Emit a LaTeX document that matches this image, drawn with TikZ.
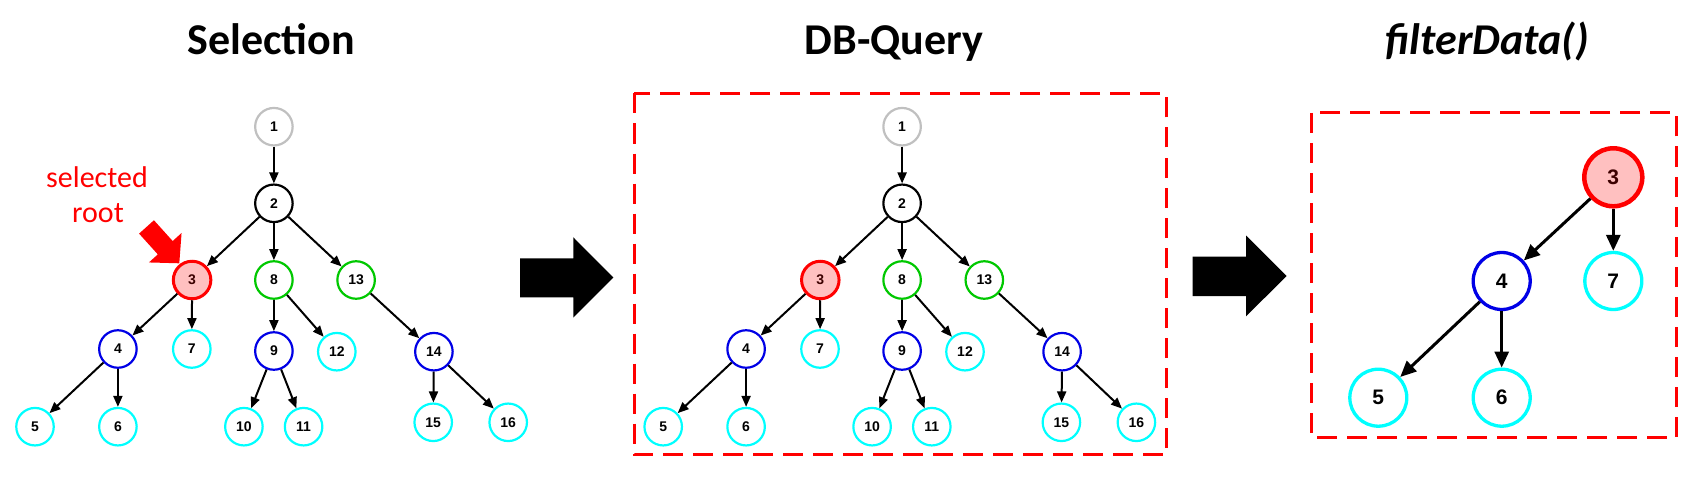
\documentclass[tikz,border=0pt]{standalone}
\usepackage{fontspec}
\setmainfont{Carlito}
\newfontfamily\nodefont{Liberation Sans}
\usetikzlibrary{arrows.meta}
\definecolor{ngray}{RGB}{192,192,192}
\definecolor{ngreen}{RGB}{0,200,0}
\definecolor{nblue}{RGB}{0,0,230}
\definecolor{ncyan}{RGB}{0,255,255}
\definecolor{npink}{RGB}{255,192,192}
\definecolor{nred}{RGB}{255,0,0}
\definecolor{ndark}{RGB}{60,0,0}
\tikzset{
  tn/.style={circle, draw, line width=2.2pt, minimum size=37.5pt, inner sep=0pt, fill=white,
    font=\nodefont\bfseries\fontsize{14}{14}\selectfont},
  bn/.style={circle, draw, line width=3.3pt, minimum size=57pt, inner sep=0pt, fill=white,
    font=\nodefont\bfseries\fontsize{21}{21}\selectfont},
  selnode/.style={draw=nred, fill=npink, text=ndark},
  edgeA/.style={line width=2pt, -{Triangle[length=11pt,width=9pt]}},
  edgeB/.style={line width=3pt, -{Triangle[length=16pt,width=14pt]}},
  ttl/.style={anchor=base, font=\bfseries\fontsize{44}{50}\selectfont},
  dbox/.style={draw=nred, line width=3pt, dash pattern=on 20pt off 10pt},
  bigarrow/.style={fill=black},
}
\newcommand{\fulltree}{%
  \node[tn, draw=ngray] (n1) at (273.9,126.7) {1};
  \node[tn, draw=black] (n2) at (273.9,203.3) {2};
  \node[tn, selnode, line width=3pt] (n3) at (192.1,280) {3};
  \node[tn, draw=ngreen] (n8) at (273.9,280) {8};
  \node[tn, draw=ngreen] (n13) at (356.1,280) {13};
  \node[tn, draw=nblue] (n4) at (117.9,349) {4};
  \node[tn, draw=ncyan] (n7) at (191.8,349) {7};
  \node[tn, draw=nblue] (n9) at (273.9,351) {9};
  \node[tn, draw=ncyan] (n12) at (336.8,351.7) {12};
  \node[tn, draw=nblue] (n14) at (433.9,351.7) {14};
  \node[tn, draw=ncyan] (n5) at (35,426.7) {5};
  \node[tn, draw=ncyan] (n6) at (117.9,426.7) {6};
  \node[tn, draw=ncyan] (n10) at (243.9,426.7) {10};
  \node[tn, draw=ncyan] (n11) at (303.6,426.7) {11};
  \node[tn, draw=ncyan] (n15) at (433.2,422.3) {15};
  \node[tn, draw=ncyan] (n16) at (508.2,422.3) {16};
  \draw[edgeA] (n1) -- (n2);
  \draw[edgeA] (n2) -- (n3);
  \draw[edgeA] (n2) -- (n8);
  \draw[edgeA] (n2) -- (n13);
  \draw[edgeA] (n3) -- (n4);
  \draw[edgeA] (n3) -- (n7);
  \draw[edgeA] (n8) -- (n9);
  \draw[edgeA] (n8) -- (n12);
  \draw[edgeA] (n13) -- (n14);
  \draw[edgeA] (n4) -- (n5);
  \draw[edgeA] (n4) -- (n6);
  \draw[edgeA] (n9) -- (n10);
  \draw[edgeA] (n9) -- (n11);
  \draw[edgeA] (n14) -- (n15);
  \draw[edgeA] (n14) -- (n16);
}
\begin{document}
\begin{tikzpicture}[x=1pt, y=-1pt]
  \useasboundingbox (0,0) rectangle (1707,500);
  % titles
  \node[ttl] (t1) at (271,55) {Selection};
  \node[ttl] (t2) at (894,55) {DB-Query};
  \node[ttl, font=\bfseries\itshape\fontsize{44}{50}\selectfont] (t3) at (1487,55) {filterData()};
  % left tree
  \begin{scope}[name prefix=a-]
    \fulltree
  \end{scope}
  % selected root label and pointer
  \node[anchor=base, text=nred, font=\fontsize{30}{35}\selectfont] (sel1) at (97,187) {selected};
  \node[anchor=base, text=nred, font=\fontsize{30}{35}\selectfont] (sel2) at (98,222) {root};
  \fill[nred] (179.3,263.3) -- (181.57,233.0) -- (172.67,241.03) -- (153.94,220.25)
    -- (139.1,233.63) -- (157.83,254.41) -- (148.93,262.44) -- cycle;
  % first big arrow
  \fill[bigarrow] (520,258.3) -- (573.3,258.3) -- (573.3,237.3) -- (613.3,277.5)
    -- (573.3,317.5) -- (573.3,297.3) -- (520,297.3) -- cycle;
  % middle tree
  \draw[dbox] (634,93.5) rectangle (1166,454.5);
  \begin{scope}[name prefix=b-, xshift=628.2pt]
    \fulltree
  \end{scope}
  % second big arrow
  \fill[bigarrow] (1192.7,256.5) -- (1246,256.5) -- (1246,235.5) -- (1286.7,276)
    -- (1246,316.3) -- (1246,296) -- (1192.7,296) -- cycle;
  % right tree
  \draw[dbox] (1311,113) rectangle (1676.5,437);
  \node[bn, selnode, line width=4.5pt, minimum size=58pt] (c3) at (1613.3,177.3) {3};
  \node[bn, draw=nblue] (c4) at (1501.7,281) {4};
  \node[bn, draw=ncyan] (c7) at (1613.3,281) {7};
  \node[bn, draw=ncyan] (c5) at (1378.3,397.7) {5};
  \node[bn, draw=ncyan] (c6) at (1501.7,397.7) {6};
  \draw[edgeB] (c3) -- (c4);
  \draw[edgeB] (c3) -- (c7);
  \draw[edgeB] (c4) -- (c5);
  \draw[edgeB] (c4) -- (c6);
\end{tikzpicture}
\end{document}
